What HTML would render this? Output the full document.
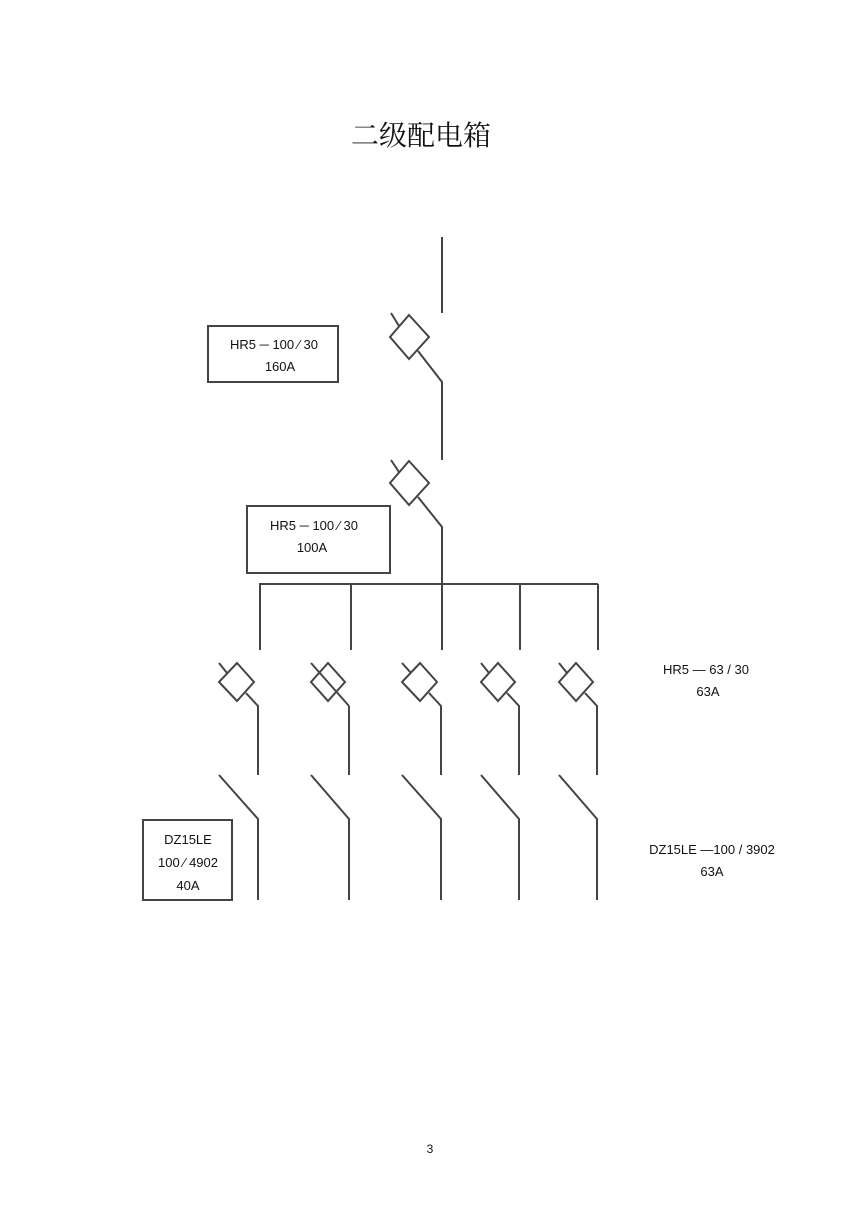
<!DOCTYPE html>
<html><head><meta charset="utf-8"><style>
html,body{margin:0;padding:0;background:#fff;}
svg{display:block;}
text{font-family:"Liberation Sans","Noto Sans CJK SC",sans-serif;fill:#111;}
</style></head><body>
<svg width="860" height="1218" viewBox="0 0 860 1218" xmlns="http://www.w3.org/2000/svg">
<text x="421" y="145" font-size="28" text-anchor="middle" font-family="'Noto Serif CJK SC','Noto Sans CJK SC',serif" style="font-family:'Noto Serif CJK SC','Noto Sans CJK SC',serif">二级配电箱</text>
<g stroke="#444" stroke-width="2" fill="none">
<line x1="442" y1="237" x2="442" y2="313"/>
<polygon points="409,315 429,337 409,359 390,337"/>
<line x1="391" y1="313" x2="399" y2="326"/>
<polyline points="418,351 442,382 442,460"/>
<polygon points="409,461 429,483 409,505 390,483"/>
<line x1="391" y1="460" x2="399" y2="472"/>
<polyline points="418,497 442,527 442,650"/>
<line x1="259" y1="584" x2="598" y2="584"/>
<line x1="260" y1="584" x2="260" y2="650"/>
<line x1="351" y1="584" x2="351" y2="650"/>
<line x1="520" y1="584" x2="520" y2="650"/>
<line x1="598" y1="584" x2="598" y2="650"/>
<rect x="208" y="326" width="130" height="56"/>
<rect x="247" y="506" width="143" height="67"/>
<rect x="143" y="820" width="89" height="80"/>
</g>
<g stroke="#444" stroke-width="2" fill="none">
<!-- col 1 -->
<polygon points="237,663 254,682 237,701 219,682"/><line x1="219" y1="663" x2="227" y2="673"/><polyline points="246,693 258,706 258,775"/>
<polyline points="219,775 258,819 258,900"/>
<!-- col 2 -->
<polygon points="328,663 345,682 328,701 311,682"/><line x1="311" y1="663" x2="349" y2="706"/><polyline points="349,706 349,775"/>
<polyline points="311,775 349,819 349,900"/>
<!-- col 3 -->
<polygon points="420,663 437,682 420,701 402,682"/><line x1="402" y1="663" x2="411" y2="673"/><polyline points="429,693 441,706 441,775"/>
<polyline points="402,775 441,819 441,900"/>
<!-- col 4 -->
<polygon points="498,663 515,682 498,701 481,682"/><line x1="481" y1="663" x2="489" y2="673"/><polyline points="507,693 519,706 519,775"/>
<polyline points="481,775 519,819 519,900"/>
<!-- col 5 -->
<polygon points="576,663 593,682 576,701 559,682"/><line x1="559" y1="663" x2="567" y2="673"/><polyline points="585,693 597,706 597,775"/>
<polyline points="559,775 597,819 597,900"/>
</g>
<g font-size="13" text-anchor="middle">
<text x="274" y="349">HR5 ─ 100 ⁄ 30</text>
<text x="280" y="371">160A</text>
<text x="314" y="530">HR5 ─ 100 ⁄ 30</text>
<text x="312" y="552">100A</text>
<text x="188" y="844">DZ15LE</text>
<text x="188" y="867">100 ⁄ 4902</text>
<text x="188" y="890">40A</text>
<text x="706" y="674">HR5 — 63 / 30</text>
<text x="708" y="696">63A</text>
<text x="712" y="854">DZ15LE —100 / 3902</text>
<text x="712" y="876">63A</text>
<text x="430" y="1153" font-size="12">3</text>
</g>
</svg>
</body></html>
